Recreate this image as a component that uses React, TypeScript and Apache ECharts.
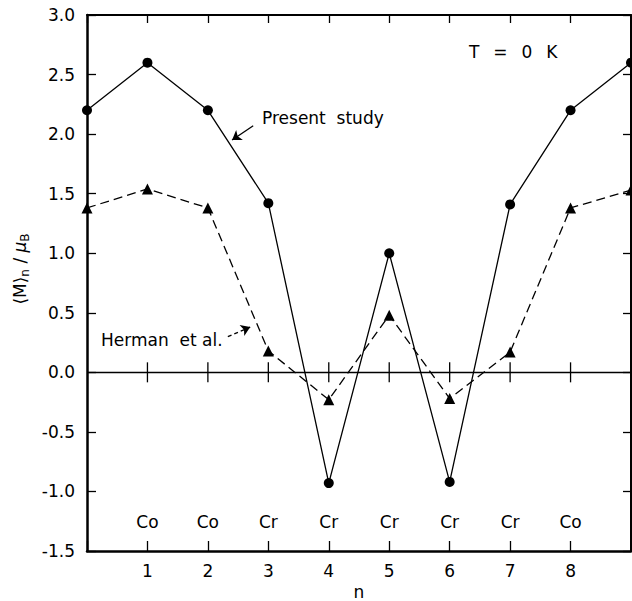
import React, { useEffect, useRef } from "react";
import * as echarts from "echarts";

const nValues = [0, 1, 2, 3, 4, 5, 6, 7, 8, 9];
const presentStudy = [2.2, 2.6, 2.2, 1.42, -0.93, 1.0, -0.92, 1.41, 2.2, 2.6];
const hermanEtAl = [1.38, 1.54, 1.38, 0.18, -0.23, 0.48, -0.22, 0.17, 1.38, 1.53];
const siteN = [1, 2, 3, 4, 5, 6, 7, 8];
const siteLabels = ["Co", "Co", "Cr", "Cr", "Cr", "Cr", "Cr", "Co"];
const siteLabelY = -1.26;
const xTickLabels = ["1", "2", "3", "4", "5", "6", "7", "8"];
const presentArrow = [[2.75, 2.07], [2.4, 1.95]];
const hermanArrow = [[2.33, 0.3], [2.7, 0.38]];

const FONT = "DejaVu Sans";

export default function App() {
  const ref = useRef<HTMLDivElement>(null);
  useEffect(() => {
    if (!ref.current) return;
    const chart = echarts.init(ref.current, undefined, { renderer: "svg" });
    const axisCommon = {
      type: "value" as const,
      splitLine: { show: false },
    };
    chart.setOption({
      animation: false,
      backgroundColor: "#fff",
      grid: {
        left: 87,
        right: 1,
        top: 15,
        bottom: 50,
        containLabel: false,
        outerBoundsMode: "none",
      },
      xAxis: [
        {
          ...axisCommon,
          position: "bottom",
          min: 0,
          max: 9,
          interval: 1,
          axisLine: { onZero: false, lineStyle: { color: "#000", width: 2.5 } },
          axisTick: { inside: true, length: 10, lineStyle: { color: "#000", width: 1.3 } },
          axisLabel: {
            margin: 11,
            color: "#000",
            fontFamily: FONT,
            fontSize: 17,
            formatter: (v: number) => {
              const i = siteN.indexOf(v);
              return i >= 0 ? xTickLabels[i] : "";
            },
          },
          name: "n",
          nameLocation: "middle",
          nameGap: 32,
          nameTextStyle: { color: "#000", fontFamily: FONT, fontSize: 17, lineHeight: 14 },
        },
        {
          ...axisCommon,
          position: "top",
          min: 0,
          max: 9,
          interval: 1,
          axisLine: { onZero: false, lineStyle: { color: "#000", width: 2 } },
          axisTick: { inside: true, length: 8, lineStyle: { color: "#000", width: 1.3 } },
          axisLabel: { show: false },
        },
      ],
      yAxis: [
        {
          ...axisCommon,
          position: "left",
          min: -1.5,
          max: 3.0,
          interval: 0.5,
          axisLine: { onZero: false, lineStyle: { color: "#000", width: 2.5 } },
          axisTick: { inside: true, length: 9, lineStyle: { color: "#000", width: 1.3 } },
          axisLabel: {
            margin: 12,
            color: "#000",
            fontFamily: FONT,
            fontSize: 17,
            formatter: (v: number) => v.toFixed(1),
          },
        },
        {
          ...axisCommon,
          position: "right",
          min: -1.5,
          max: 3.0,
          interval: 0.5,
          axisLine: { onZero: false, lineStyle: { color: "#000", width: 2 } },
          axisTick: { inside: true, length: 8, lineStyle: { color: "#000", width: 1.3 } },
          axisLabel: { show: false },
        },
      ],
      series: [
        {
          type: "custom",
          name: "zero",
          xAxisIndex: 0,
          yAxisIndex: 0,
          data: siteN.map((n) => [n, 0]),
          renderItem: (params: any, api: any) => {
            const c = api.coord([api.value(0), 0]);
            return {
              type: "line",
              shape: { x1: c[0], y1: c[1] - 10, x2: c[0], y2: c[1] + 10 },
              style: { stroke: "#000", lineWidth: 1.3 },
            };
          },
          silent: true,
          markLine: {
            silent: true,
            symbol: "none",
            label: { show: false },
            lineStyle: { color: "#000", width: 1.3, type: "solid" },
            data: [{ yAxis: 0 }],
          },
        },
        {
          type: "line",
          name: "Present study",
          data: nValues.map((n, i) => [n, presentStudy[i]]),
          symbol: "circle",
          symbolSize: 10,
          lineStyle: { color: "#000", width: 1.3 },
          itemStyle: { color: "#000" },
          clip: false,
          z: 3,
          markLine: {
            silent: true,
            symbol: ["none", "arrow"],
            symbolSize: 9,
            label: { show: false },
            lineStyle: { color: "#000", width: 1.3, type: "solid" },
            data: [[{ coord: presentArrow[0] }, { coord: presentArrow[1] }]],
          },
        },
        {
          type: "line",
          name: "Herman et al.",
          data: nValues.map((n, i) => [n, hermanEtAl[i]]),
          symbol: "triangle",
          symbolSize: 11,
          lineStyle: { color: "#000", width: 1.3, type: [9, 5] },
          itemStyle: { color: "#000" },
          clip: false,
          z: 3,
          markLine: {
            silent: true,
            symbol: ["none", "arrow"],
            symbolSize: 9,
            label: { show: false },
            lineStyle: { color: "#000", width: 1.3, type: [4, 3] },
            data: [[{ coord: hermanArrow[0] }, { coord: hermanArrow[1] }]],
          },
        },
        {
          type: "scatter",
          name: "sites",
          data: siteN.map((n) => [n, siteLabelY]),
          symbolSize: 1,
          silent: true,
          itemStyle: { opacity: 1, color: "rgba(0,0,0,0)" },
          label: {
            show: true,
            position: "inside",
            color: "#000",
            opacity: 1,
            fontFamily: FONT,
            fontSize: 17,
            formatter: (p: any) => siteLabels[p.dataIndex],
          },
        },
      ],
      graphic: [
        {
          type: "text",
          x: 262,
          y: 118,
          style: {
            text: "Present\u00A0 study",
            fill: "#000",
            font: `17px "${FONT}"`,
            textAlign: "left",
            textVerticalAlign: "middle",
          },
        },
        {
          type: "text",
          x: 101,
          y: 340,
          style: {
            text: "Herman\u00A0 et al.",
            fill: "#000",
            font: `17px "${FONT}"`,
            textAlign: "left",
            textVerticalAlign: "middle",
          },
        },
        {
          type: "text",
          x: 469,
          y: 52,
          style: {
            text: "T\u2002\u00A0=\u2002\u00A00\u2002\u00A0K",
            fill: "#000",
            font: `17px "${FONT}"`,
            textAlign: "left",
            textVerticalAlign: "middle",
          },
        },
        {
          type: "text",
          x: 20,
          y: 269,
          rotation: Math.PI / 2,
          style: {
            text: "⟨M⟩{s|n} / {i|μ}{s|B}",
            fill: "#000",
            font: `17px "${FONT}"`,
            textAlign: "center",
            textVerticalAlign: "middle",
            rich: {
              s: { fontSize: 12, fontFamily: FONT, fill: "#000", padding: [9, 0, 0, 0] },
              i: { fontSize: 17, fontFamily: FONT, fontStyle: "italic", fill: "#000" },
            },
          },
        },
      ],
    });
    return () => chart.dispose();
  }, []);
  return (
    <div
      ref={ref}
      style={{ position: "fixed", left: 0, top: 0, width: 632, height: 601 }}
    />
  );
}
